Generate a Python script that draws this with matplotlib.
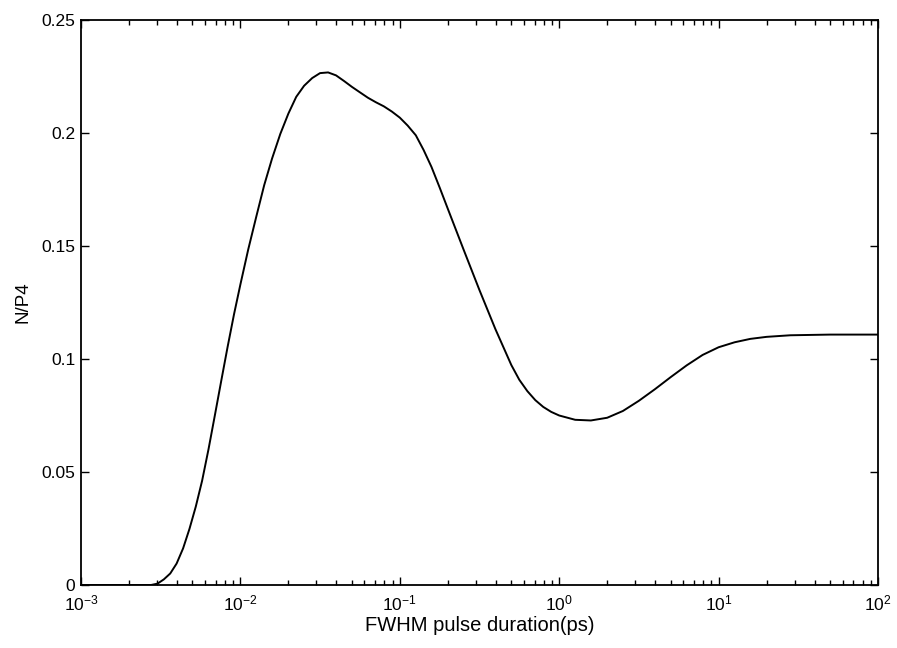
import matplotlib
matplotlib.use("Agg")
import matplotlib.pyplot as plt
from matplotlib.ticker import FixedLocator, FixedFormatter

plt.rcParams['font.family'] = ['Liberation Sans', 'DejaVu Sans']
plt.rcParams['mathtext.default'] = 'regular'

# pulse duration (ps) and N/P4
duration = [0.001, 0.002, 0.00275, 0.00302, 0.00331, 0.00363, 0.00398,
            0.00437, 0.00479, 0.00525, 0.00575, 0.00631, 0.00692, 0.00759,
            0.00832, 0.00912, 0.0100, 0.0112, 0.0126, 0.0141, 0.0158,
            0.0178, 0.0200, 0.0224, 0.0251, 0.0282, 0.0316, 0.0355,
            0.0398, 0.0447, 0.0501, 0.0562, 0.0631, 0.0708, 0.0794,
            0.0891, 0.100, 0.112, 0.126, 0.141, 0.158, 0.178, 0.200,
            0.251, 0.316, 0.398, 0.501, 0.562, 0.631, 0.708, 0.794, 0.891,
            1.00, 1.26, 1.58, 2.00, 2.51, 3.16, 3.98, 5.01, 6.31, 7.94,
            10.0, 12.6, 15.8, 20.0, 28.2, 50.1, 100.0]
ratio = [0.0, 0.0, 0.0, 0.0006, 0.0025, 0.0051, 0.0095,
         0.0162, 0.0248, 0.0347, 0.0461, 0.0601, 0.0752, 0.0905,
         0.1055, 0.1198, 0.1330, 0.1485, 0.1632, 0.1769, 0.1887,
         0.1996, 0.2086, 0.2160, 0.2209, 0.2243, 0.2265, 0.2268,
         0.2255, 0.2230, 0.2204, 0.2180, 0.2156, 0.2136, 0.2118,
         0.2095, 0.2068, 0.2033, 0.1990, 0.1925, 0.1850, 0.1758, 0.1665,
         0.1485, 0.1305, 0.1132, 0.0973, 0.0908, 0.0858, 0.0818, 0.0788, 0.0766,
         0.0750, 0.0731, 0.0728, 0.0740, 0.0770, 0.0815, 0.0866, 0.0920, 0.0972, 0.1018,
         0.1052, 0.1074, 0.1089, 0.1098, 0.1105, 0.1108, 0.1108]

yticks = [0, 0.05, 0.1, 0.15, 0.2, 0.25]
ytick_labels = ['0', '0.05', '0.1', '0.15', '0.2', '0.25']

fig = plt.figure(figsize=(8.97, 6.48), dpi=100)
ax = fig.add_axes([81 / 897, 1 - 585 / 648, 797 / 897, 565 / 648])

ax.plot(duration, ratio, color='black', linewidth=1.4)

ax.set_xscale('log')
ax.set_xlim(1e-3, 1e2)
ax.set_ylim(0, 0.25)
ax.yaxis.set_major_locator(FixedLocator(yticks))
ax.yaxis.set_major_formatter(FixedFormatter(ytick_labels))

ax.tick_params(which='both', direction='in', top=True, right=True,
               labelsize=12.5, width=1.0)
ax.tick_params(axis='x', which='major', length=6, pad=6)
ax.tick_params(axis='x', which='minor', length=3.5)
ax.tick_params(axis='y', which='major', length=6, pad=4)
for s in ax.spines.values():
    s.set_linewidth(1.3)

ax.set_xlabel('FWHM pulse duration(ps)', fontsize=14.5, labelpad=2)
ax.set_ylabel('N/P4', fontsize=13.5, labelpad=7)

fig.savefig('out.png', dpi=100)
